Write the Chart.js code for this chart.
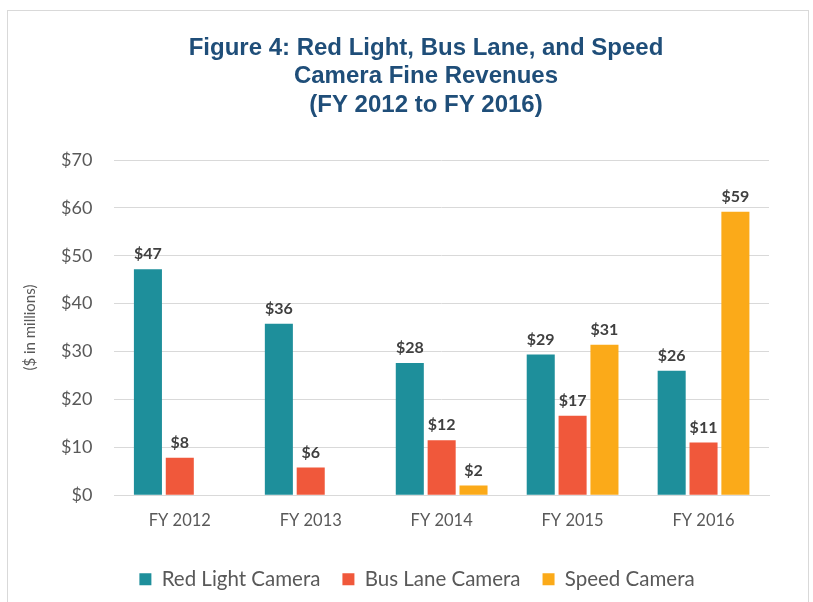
<!DOCTYPE html>
<html>
<head>
<meta charset="utf-8">
<script src="https://cdn.jsdelivr.net/npm/chart.js@4.4.1/dist/chart.umd.min.js"></script>
<style>
  html, body { margin: 0; padding: 0; background: #fff; }
  #wrap { position: absolute; left: 7px; top: 10px; width: 802px; height: 600px; border: 1px solid #d9d9d9; box-sizing: border-box; }
  #c { position: absolute; left: 0; top: 0; }
</style>
</head>
<body>
<div id="wrap"></div>
<canvas id="c" width="813" height="602"></canvas>
<script>
const categories = ["FY 2012", "FY 2013", "FY 2014", "FY 2015", "FY 2016"];
const redLight = [47.2, 35.8, 27.6, 29.4, 26.0];
const busLane = [7.8, 5.8, 11.5, 16.6, 11.0];
const speed = [null, null, 2.0, 31.4, 59.2];
const yTicks = [0, 10, 20, 30, 40, 50, 60, 70];
const titleLines = ["Figure 4: Red Light, Bus Lane, and Speed", "Camera Fine Revenues", "(FY 2012 to FY 2016)"];

const titlePlugin = {
  id: 'customTitle',
  afterDraw(chart) {
    const ctx = chart.ctx;
    ctx.save();
    ctx.font = 'bold 24px "Liberation Sans", Arial, sans-serif';
    ctx.fillStyle = '#1F4E79';
    ctx.textAlign = 'center';
    ctx.textBaseline = 'middle';
    const cx = 426;
    titleLines.forEach((t, i) => ctx.fillText(t, cx, 48 + i * 28.5));
    ctx.restore();
  }
};

const labelPlugin = {
  id: 'barLabels',
  afterDatasetsDraw(chart) {
    const ctx = chart.ctx;
    ctx.save();
    ctx.font = 'bold 16px Lato, "Open Sans", sans-serif';
    ctx.fillStyle = '#404040';
    ctx.textAlign = 'center';
    ctx.textBaseline = 'bottom';
    chart.data.datasets.forEach((ds, i) => {
      const meta = chart.getDatasetMeta(i);
      meta.data.forEach((el, j) => {
        const v = ds.data[j];
        if (v === null || v === undefined) return;
        ctx.fillText('$' + Math.round(v), el.x, el.y - 7);
      });
    });
    ctx.restore();
  }
};

new Chart(document.getElementById('c'), {
  type: 'bar',
  data: {
    labels: categories,
    datasets: [
      { label: 'Red Light Camera', data: redLight, backgroundColor: '#1E8F9B' },
      { label: 'Bus Lane Camera', data: busLane, backgroundColor: '#F0583B' },
      { label: 'Speed Camera', data: speed, backgroundColor: '#FBAA19' }
    ]
  },
  options: {
    responsive: false,
    animation: false,
    layout: { padding: { left: 21, right: 0, top: 160, bottom: 2.5 } },
    datasets: { bar: { categoryPercentage: 0.73, barPercentage: 0.88 } },
    plugins: {
      title: { display: false },
      legend: {
        position: 'bottom',
        labels: {
          color: '#595959',
          font: { family: 'Lato, "Open Sans", sans-serif', size: 20.5 },
          boxWidth: 12, boxHeight: 12, padding: 22
        }
      },
      tooltip: { enabled: false }
    },
    scales: {
      x: {
        grid: { display: false, drawTicks: false },
        border: { color: '#d9d9d9' },
        ticks: { color: '#595959', font: { family: 'Lato, "Open Sans", sans-serif', size: 16.5 }, padding: 16 }
      },
      y: {
        min: 0, max: 70,
        afterBuildTicks(axis) { axis.ticks = yTicks.map(v => ({ value: v })); },
        grid: { color: '#d9d9d9', drawTicks: false },
        border: { display: false },
        ticks: { color: '#595959', font: { family: 'Lato, "Open Sans", sans-serif', size: 18 }, padding: 22, callback: v => '$' + v },
        title: { display: true, text: '($ in millions)', color: '#595959', font: { family: 'Lato, "Open Sans", sans-serif', size: 15 }, padding: { top: 0, bottom: 0 } }
      },
      spacer: {
        type: 'linear',
        position: 'right',
        min: 0, max: 70,
        grid: { display: false, drawTicks: false },
        border: { display: false },
        ticks: { display: false },
        afterFit(axis) { axis.width = 44; }
      }
    }
  },
  plugins: [labelPlugin, titlePlugin]
});
</script>
</body>
</html>
